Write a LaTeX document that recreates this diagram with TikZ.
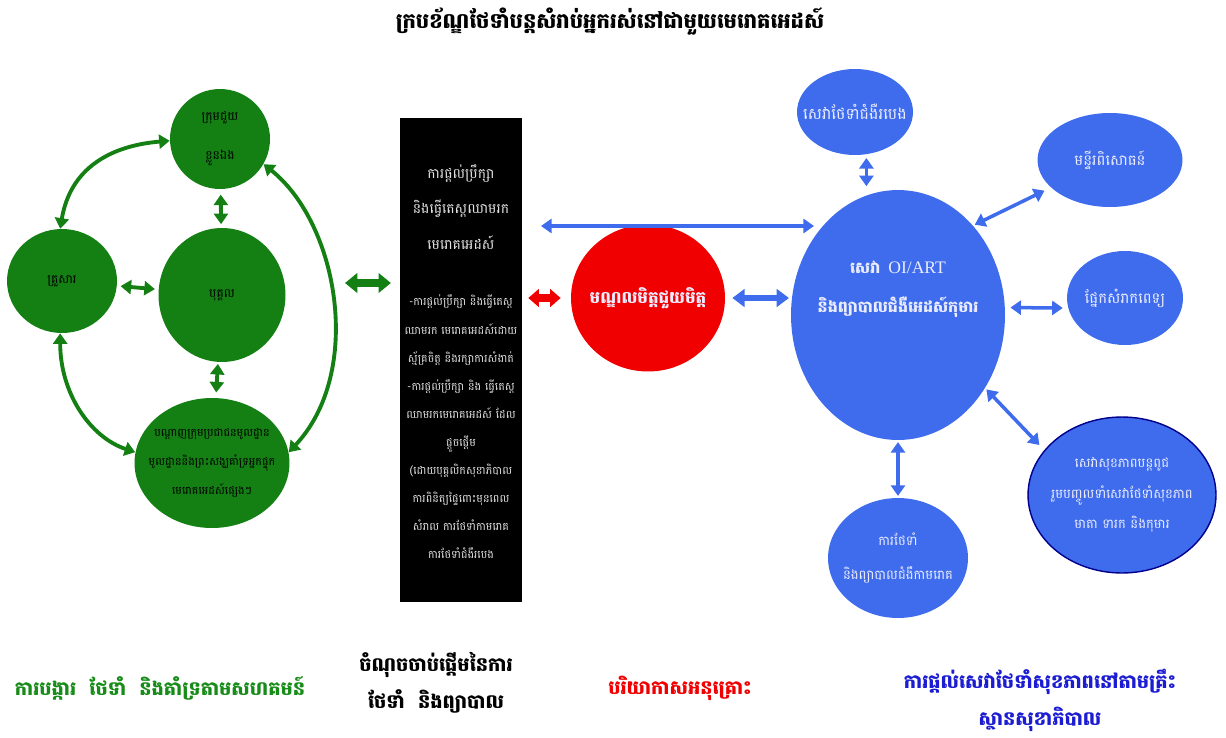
\documentclass[tikz,border=0pt]{standalone}
\usepackage{fontspec}
\newfontfamily\km[Script=Khmer]{Battambang}
\newfontfamily\lat{Liberation Serif}
\usetikzlibrary{shapes.geometric,arrows.meta,calc}
\definecolor{gfill}{RGB}{20,128,20}
\definecolor{bfill}{RGB}{62,108,236}
\definecolor{rfill}{RGB}{240,0,0}
\definecolor{gtext}{RGB}{24,140,24}
\definecolor{btext}{RGB}{28,28,210}
\definecolor{ctext}{RGB}{236,236,255}
\definecolor{boxtext}{RGB}{225,225,225}
\tikzset{
  gnode/.style={ellipse, fill=gfill, inner sep=-2cm, align=center, text=black, font=\km\fontsize{7}{12}\selectfont},
  bnode/.style={ellipse, fill=bfill, inner sep=-2cm, align=center, text=ctext, font=\km\fontsize{8.5}{15}\selectfont},
  garrow/.style={draw=gfill, line width=2.2pt, {Triangle[width=8pt,length=6pt]}-{Triangle[width=8pt,length=6pt]}},
  gbig/.style={draw=gfill, line width=4.5pt, {Triangle[width=11pt,length=7pt]}-{Triangle[width=11pt,length=7pt]}},
  rbig/.style={draw=rfill, line width=4pt, {Triangle[width=10pt,length=6pt]}-{Triangle[width=10pt,length=6pt]}},
  barrow/.style={draw=bfill, line width=2pt, {Triangle[width=8pt,length=6pt]}-{Triangle[width=8pt,length=6pt]}},
  bbig/.style={draw=bfill, line width=3pt, {Triangle[width=10pt,length=7pt]}-{Triangle[width=10pt,length=7pt]}},
  boxtxt/.style={align=center, text=boxtext, inner sep=0pt},
  lbl/.style={align=center, inner sep=0pt, font=\km\bfseries\fontsize{11}{21}\selectfont}
}
\begin{document}
\begin{tikzpicture}[x=0.02cm, y=-0.02cm]
\useasboundingbox (0,0) rectangle (1226,737);

% title
\node[lbl, text=black, font=\km\bfseries\fontsize{12}{14}\selectfont] (title) at (610,22) {ក្របខ័ណ្ឌថែទាំបន្តសំរាប់អ្នករស់នៅជាមួយមេរោគអេដស៍};

% green cluster
\node[gnode, minimum width=2cm, minimum height=2cm] (shg) at (220,139) {ក្រុមជួយ\\[10pt]ខ្លួនឯង};
\node[gnode, minimum width=2.2cm, minimum height=2.08cm] (fam) at (62,281) {គ្រួសារ};
\node[gnode, minimum width=2.54cm, minimum height=2.68cm] (ind) at (222,295) {បុគ្គល};
\node[gnode, minimum width=3.1cm, minimum height=2.6cm, font=\km\fontsize{6.3}{16.5}\selectfont] (net) at (212,463) {បណ្តាញក្រុមប្រជាជនមូលដ្ឋាន\\មូលដ្ឋាននិងព្រះសង្ឃគាំទ្រអ្នកផ្ទុក\\មេរោគអេដស៍ផ្សេងៗ};

\draw[garrow] (shg.182) .. controls +(-60,5) and +(10,-60) .. (fam.92);
\draw[garrow] (fam.268) .. controls +(0,60) and +(-45,-15) .. (net.172);
\draw[garrow] (shg.-30) .. controls +(75,60) and +(75,-80) .. (net.8);
\draw[garrow, shorten <=3pt, shorten >=2pt] (shg) -- (ind);
\draw[garrow, shorten <=1pt, shorten >=3pt] (ind) -- (net);
\draw[garrow, shorten <=2pt, shorten >=2pt] (fam) -- (ind);

% black box
\node[fill=black, minimum width=2.44cm, minimum height=9.68cm, inner sep=0pt] (box) at (461,360) {};
\node[boxtxt, font=\km\fontsize{8}{20}\selectfont] (boxt) at (461,207) {ការផ្តល់ប្រឹក្សា\\និងធ្វើតេស្តឈាមរក\\មេរោគអេដស៍};
\node[boxtxt, font=\km\fontsize{6.3}{16}\selectfont] (boxb) at (461,427) {-ការផ្តល់ប្រឹក្សា និងធ្វើតេស្ត\\ឈាមរក មេរោគអេដស៍ដោយ\\ស្ម័គ្រចិត្ត និងរក្សាការសំងាត់\\-ការផ្តល់ប្រឹក្សា និង ធ្វើតេស្ត\\ឈាមរកមេរោគអេដស៍ ដែល\\ផ្តួចផ្តើម\\(ដោយបុគ្គលិកសុខាភិបាល\\ការពិនិត្យផ្ទៃពោះមុនពេល\\សំរាល ការថែទាំកាមរោគ\\ការថែទាំជំងឺរបេង};

\coordinate (gl) at (345,283);
\draw[gbig, shorten >=5pt] (gl) -- (gl -| box.west);

% red
\node[ellipse, fill=rfill, minimum width=3.08cm, minimum height=2.94cm, inner sep=-2cm, text=ctext, font=\km\bfseries\fontsize{9.5}{12}\selectfont] (ctr) at (648,298) {មណ្ឌលមិត្តជួយមិត្ត};
\draw[rbig, shorten <=3.4pt, shorten >=5.7pt] (box.east |- ctr) -- (ctr.west);

% blue
\node[bnode, minimum width=4.28cm, minimum height=5cm, font=\km\bfseries\fontsize{9}{22}\selectfont] (big) at (898,315) {សេវា \,{\lat\mdseries\fontsize{10}{12}\selectfont OI/ART}\\និងព្យាបាលជំងឺអេដស៍កុមារ\\[10pt]~};
\node[bnode, minimum width=2.32cm, minimum height=1.72cm, font=\km\fontsize{9}{15}\selectfont] (tb) at (855,112) {សេវាថែទាំជំងឺរបេង};
\node[bnode, minimum width=2.9cm, minimum height=1.88cm] (lab) at (1110,160) {មន្ទីរពិសោធន៍};
\node[bnode, minimum width=2.32cm, minimum height=1.88cm] (rest) at (1125,298) {ផ្នែកសំរាកពេទ្យ};
\node[bnode, draw=blue!55!black, line width=0.8pt, minimum width=3.76cm, minimum height=3.12cm, font=\km\fontsize{7.5}{17.5}\selectfont] (mch) at (1122,495) {សេវាសុខភាពបន្តពូជ\\រួមបញ្ចូលទាំសេវាថែទាំសុខភាព\\មាតា ទារក និងកុមារ};
\node[bnode, minimum width=2.8cm, minimum height=2.4cm, font=\km\fontsize{7.5}{19}\selectfont] (std) at (898,558) {ការថែទាំ\\និងព្យាបាលជំងឺកាមរោគ};

\coordinate (bl) at (541,226);
\coordinate (br) at (814,226);
\draw[barrow, line width=1.8pt] (bl) -- (br);
\draw[bbig, shorten <=4pt, shorten >=1pt] (ctr.east) -- (ctr.east -| big.west);
\draw[barrow, shorten <=2pt, shorten >=2pt] (tb.-75) -- (tb.-75 |- big.north);
\draw[barrow, shorten <=1pt, shorten >=4pt] (big.50) -- (lab.205);
\draw[barrow, shorten <=3pt, shorten >=3pt] (big.4) -- (rest.190);
\draw[barrow, shorten <=1pt, shorten >=4pt] (big.-40) -- (mch.150);
\draw[barrow, shorten <=1pt, shorten >=1pt] (big) -- (std);

% bottom labels
\node[lbl, text=gtext] (lg) at (160,688) {ការបង្ការ \ ថែទាំ \ និងគាំទ្រតាមសហគមន៍};
\node[lbl, text=black] (lb) at (436,683) {ចំណុចចាប់ផ្តើមនៃការ\\ថែទាំ \ និងព្យាបាល};
\node[lbl, text=rfill] (lr) at (680,688) {បរិយាកាសអនុគ្រោះ};
\node[lbl, text=btext] (lbb) at (1040,700) {ការផ្តល់សេវាថែទាំសុខភាពនៅតាមគ្រឹះ\\ស្ថានសុខាភិបាល};
\end{tikzpicture}
\end{document}
